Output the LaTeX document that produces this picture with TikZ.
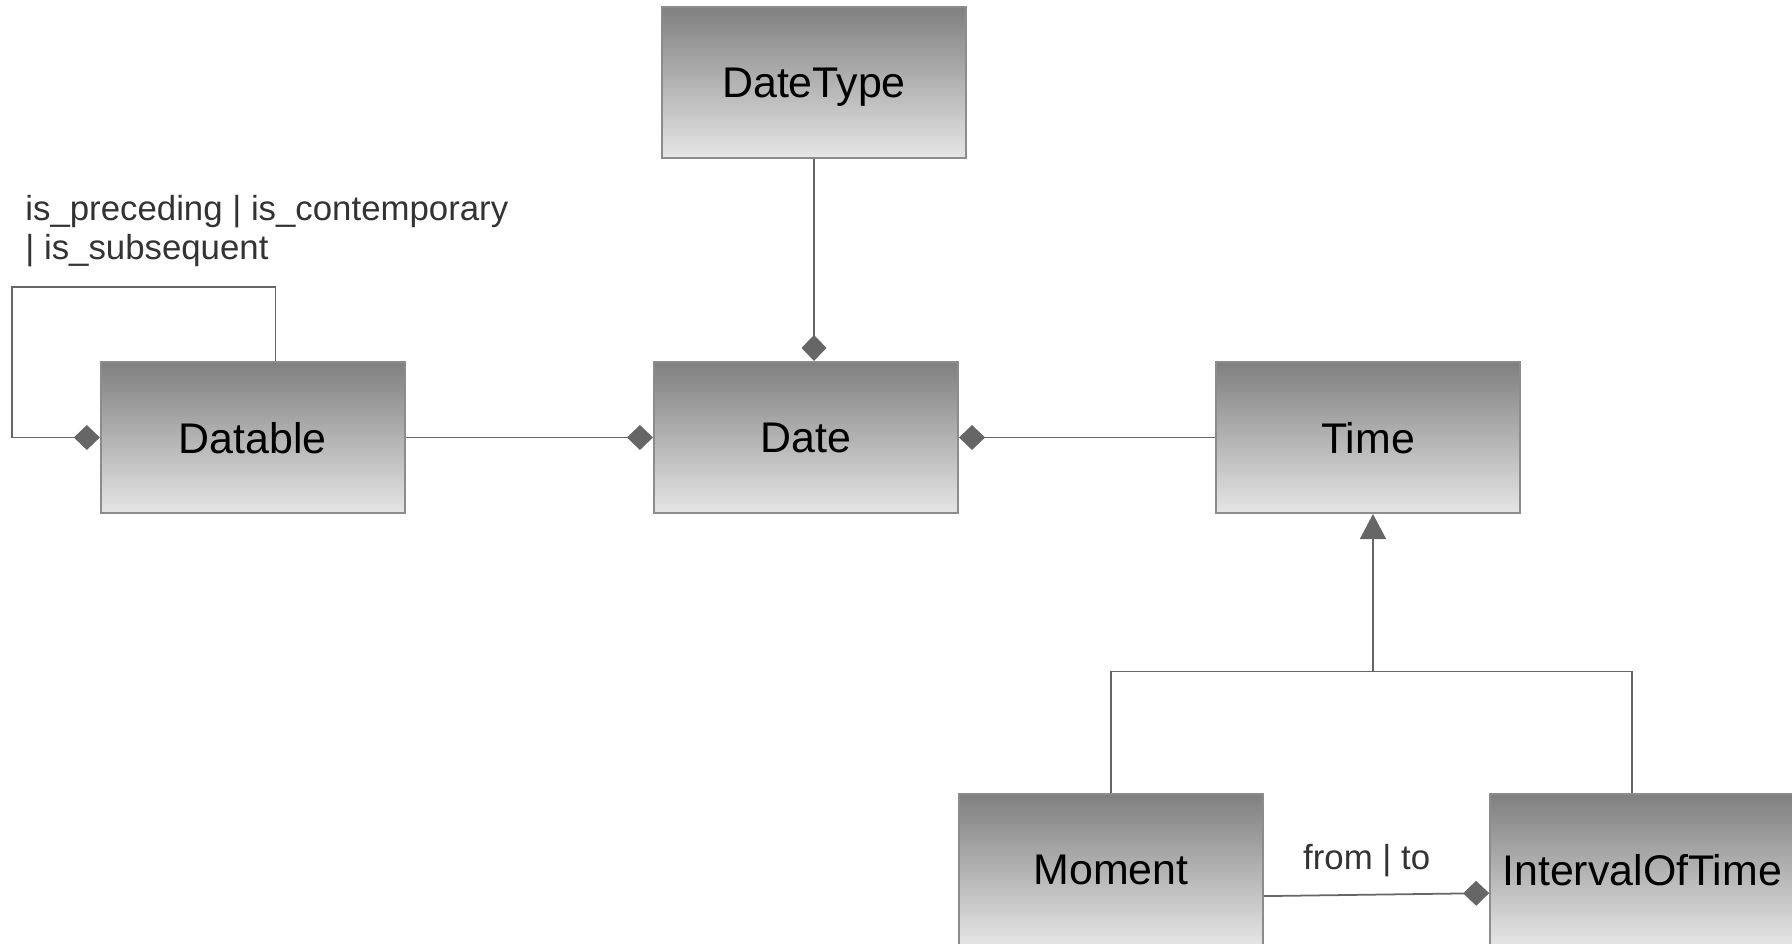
\documentclass[tikz,border=0pt]{standalone}
\usepackage{fontspec}
\setmainfont{Liberation Sans}
\usepackage{tikz}
\usetikzlibrary{calc}
\usetikzlibrary{arrows.meta}
\usetikzlibrary{positioning}
\definecolor{boxline}{HTML}{8C8C8C}
\definecolor{linkgray}{HTML}{666666}
\definecolor{labelgray}{HTML}{333333}

\begin{document}
\begin{tikzpicture}
  \tikzstyle{class node}=[rectangle,draw=boxline,line width=0.6pt,top color=black!50,bottom color=black!10,minimum width=3.04cm,minimum height=1.51cm,inner sep=0,text depth=0pt,font=\fontsize{12.2}{14}\selectfont]
  \tikzstyle{link}=[draw=linkgray,line width=0.5pt]
  \tikzset{
has/.style={-{Diamond[length=0.26cm,width=0.25cm,fill=linkgray]}},
isa/.style={-{Triangle[length=0.25cm,width=0.26cm,fill=linkgray]}},
role/.style={text=labelgray,font=\fontsize{9.9}{11.1}\selectfont,align=left}
}
  \useasboundingbox (0,0) rectangle (17.92,9.43);
  \node[class node](date) at (8.06,5.055){Date};
  \node[class node,left=2.47cm of date](datable){Datable};
  \node[class node,right=2.56cm of date](time){Time};
  \node[class node,above=2.02cm of date,xshift=0.08cm](datetype){DateType};
  \node[class node,below=2.79cm of time,xshift=-2.57cm](moment){Moment};
  \node[class node,right=2.25cm of moment](interval){IntervalOfTime};
  \coordinate (loop) at (0.12,6.56);
  \coordinate (fork) at (13.73,2.715);
  \draw[link,has] (datetype.south) -- (datetype.south |- date.north);
  \draw[link,has] (datable.east) -- (date.west);
  \draw[link,has] (time.west) -- (date.east);
  \draw[link,has] ([xshift=0.225cm]datable.north) |- (loop) |- (datable.west);
  \node[role,anchor=base west](loopname) at (0.13,6.83){is\_preceding | is\_contemporary\\| is\_subsequent};
  \draw[link,isa] (fork) -- (fork |- time.south);
  \draw[link] (moment.north) |- (fork) -| ([xshift=-0.1cm]interval.north);
  \draw[link,has] ([yshift=-0.265cm]moment.east) -- node[role,midway,above=0.05cm,xshift=-0.1cm]{from | to} ([yshift=-0.235cm]interval.west);
\end{tikzpicture}
\end{document}
